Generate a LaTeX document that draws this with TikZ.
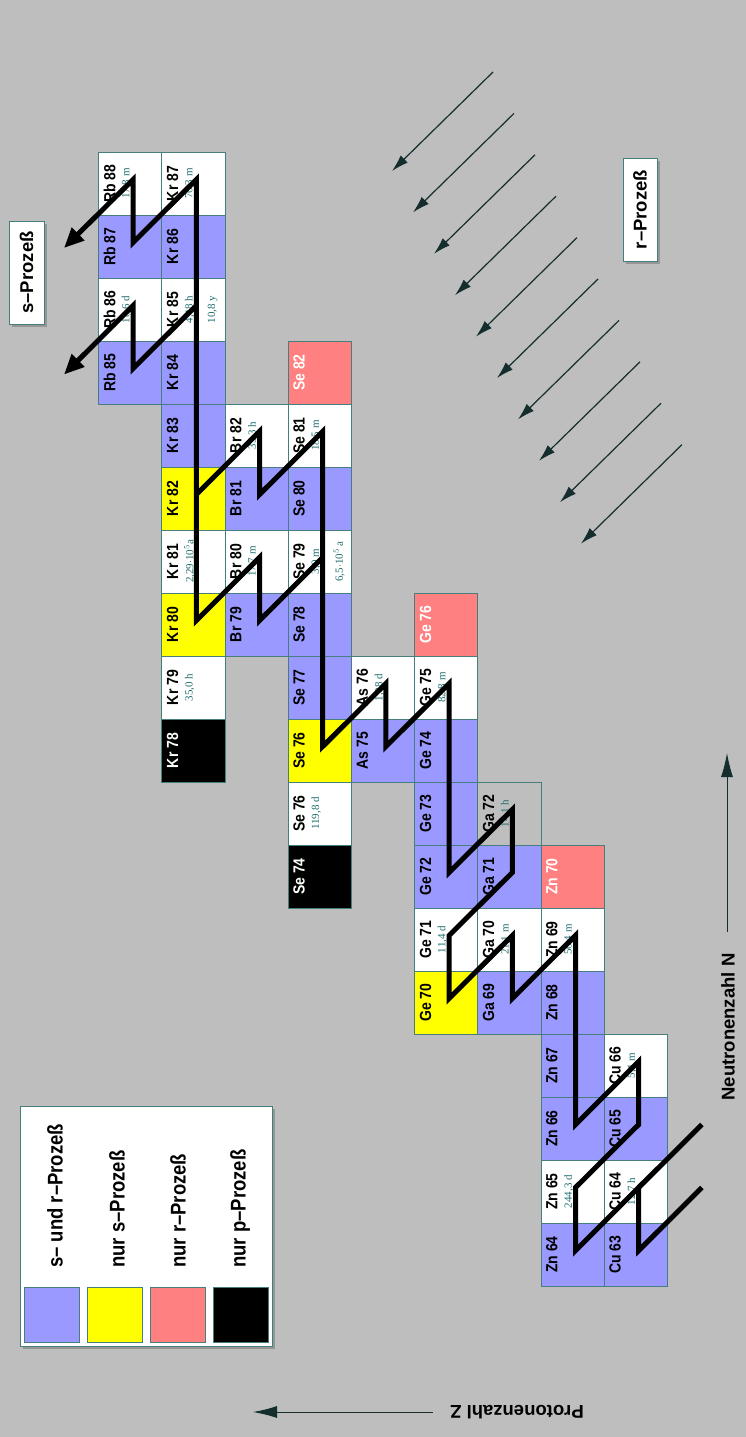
\documentclass[tikz,border=0pt]{standalone}
\usepackage{fontspec}
\setmainfont{Liberation Sans}
\newfontfamily\hlf{Liberation Serif}
\usetikzlibrary{calc,arrows.meta}
\definecolor{bg}{RGB}{190,190,190}
\definecolor{shad}{RGB}{150,150,150}
\definecolor{cblue}{RGB}{153,153,255}
\definecolor{cyel}{RGB}{255,255,0}
\definecolor{cred}{RGB}{255,128,128}
\definecolor{edge}{RGB}{70,125,125}
\definecolor{hlc}{RGB}{30,110,110}
\definecolor{arr}{RGB}{20,45,45}
\tikzset{
  cellbox/.style={draw=edge,line width=0.7pt,minimum width=63.2pt,minimum height=63pt,inner sep=0pt,outer sep=0pt},
  kWhite/.style={fill=white}, kBlue/.style={fill=cblue}, kYellow/.style={fill=cyel},
  kRed/.style={fill=cred}, kBlack/.style={fill=black}, kGray/.style={fill=bg},
  kWhitelab/.style={text=black}, kBluelab/.style={text=black}, kYellowlab/.style={text=black},
  kRedlab/.style={text=white}, kBlacklab/.style={text=white}, kGraylab/.style={text=black},
  lab/.style={rotate=90,yscale=1.15,inner sep=0pt,font=\fontsize{14}{14}\selectfont\bfseries},
  hl/.style={rotate=90,inner sep=0pt,text=hlc,font=\fontsize{11}{11}\selectfont\hlf},
  zig/.style={line width=5pt,line join=miter,line cap=butt,draw=black},
  sarrow/.style={zig,-{Triangle[length=20pt,width=17pt]}},
  rarrow/.style={draw=arr,line width=1.2pt,-{Latex[length=17pt,width=10pt]}},
  axisarrow/.style={draw=arr,line width=1pt,-{Latex[length=24pt,width=12pt]}},
  procbox/.style={rotate=90,draw=edge,fill=white,line width=0.8pt,inner sep=0pt,font=\fontsize{18.5}{18.5}\selectfont\bfseries},
  legtxt/.style={rotate=90,yscale=1.15,inner sep=0pt,anchor=west,font=\fontsize{18.5}{18.5}\selectfont\bfseries},
  swatch/.style={draw=edge,line width=0.7pt,minimum width=55pt,minimum height=55pt,inner sep=0pt,anchor=north west},
  axtxt/.style={inner sep=0pt,font=\fontsize{18.5}{18.5}\selectfont\bfseries}
}
% #1 name, #2 Z, #3 N, #4 kind, #5 label, #6 half-life, #7 second half-life
\newcommand\nuc[7]{%
  \pgfmathsetmacro\ncx{98.5+(37-#2)*63.2+31.6}%
  \pgfmathsetmacro\ncy{152+(51-#3)*63+31.5}%
  \node[cellbox,#4] (#1) at (\ncx,\ncy) {};
  \coordinate (#1c) at ($(#1.center)+(3,-4)$);
  \node[lab,#4lab] (#1l) at ($(#1.center)+(-20.6,0)$) {#5};
  \if\relax\detokenize{#6}\relax\else
    \node[hl] (#1h) at ($(#1.center)+(-3.6,0)$) {#6};
  \fi
  \if\relax\detokenize{#7}\relax\else
    \node[hl] (#1k) at ($(#1.center)+(19.4,0)$) {#7};
  \fi
}
\begin{document}
\begin{tikzpicture}[x=1pt,y=-1pt]
\useasboundingbox (0,0) rectangle (746,1437);
\fill[bg] (0,0) rectangle (746,1437);

% cells
\nuc{Rb88}{37}{51}{kWhite}{Rb 88}{17,8 m}{}
\nuc{Rb87}{37}{50}{kBlue}{Rb 87}{}{}
\nuc{Rb86}{37}{49}{kWhite}{Rb 86}{18,6 d}{}
\nuc{Rb85}{37}{48}{kBlue}{Rb 85}{}{}
\nuc{Kr87}{36}{51}{kWhite}{Kr 87}{76,3 m}{}
\nuc{Kr86}{36}{50}{kBlue}{Kr 86}{}{}
\nuc{Kr85}{36}{49}{kWhite}{Kr 85}{4,48 h}{10,8 y}
\nuc{Kr84}{36}{48}{kBlue}{Kr 84}{}{}
\nuc{Kr83}{36}{47}{kBlue}{Kr 83}{}{}
\nuc{Kr82}{36}{46}{kYellow}{Kr 82}{}{}
\nuc{Kr81}{36}{45}{kWhite}{Kr 81}{2,29$\cdot$10$^5$a}{}
\nuc{Kr80}{36}{44}{kYellow}{Kr 80}{}{}
\nuc{Kr79}{36}{43}{kWhite}{Kr 79}{35,0 h}{}
\nuc{Kr78}{36}{42}{kBlack}{Kr 78}{}{}
\nuc{Br82}{35}{47}{kWhite}{Br 82}{35,3 h}{}
\nuc{Br81}{35}{46}{kBlue}{Br 81}{}{}
\nuc{Br80}{35}{45}{kWhite}{Br 80}{17,7 m}{}
\nuc{Br79}{35}{44}{kBlue}{Br 79}{}{}
\nuc{Se82}{34}{48}{kRed}{Se 82}{}{}
\nuc{Se81}{34}{47}{kWhite}{Se 81}{18,5 m}{}
\nuc{Se80}{34}{46}{kBlue}{Se 80}{}{}
\nuc{Se79}{34}{45}{kWhite}{Se 79}{3,9 m}{6,5$\cdot$10$^5$ a}
\nuc{Se78}{34}{44}{kBlue}{Se 78}{}{}
\nuc{Se77}{34}{43}{kBlue}{Se 77}{}{}
\nuc{Se76}{34}{42}{kYellow}{Se 76}{}{}
\nuc{Se75}{34}{41}{kWhite}{Se 76}{119,8 d}{}
\nuc{Se74}{34}{40}{kBlack}{Se 74}{}{}
\nuc{As76}{33}{43}{kWhite}{As 76}{1,08 d}{}
\nuc{As75}{33}{42}{kBlue}{As 75}{}{}
\nuc{Ge76}{32}{44}{kRed}{Ge 76}{}{}
\nuc{Ge75}{32}{43}{kWhite}{Ge 75}{82,8 m}{}
\nuc{Ge74}{32}{42}{kBlue}{Ge 74}{}{}
\nuc{Ge73}{32}{41}{kBlue}{Ge 73}{}{}
\nuc{Ge72}{32}{40}{kBlue}{Ge 72}{}{}
\nuc{Ge71}{32}{39}{kWhite}{Ge 71}{11,4 d}{}
\nuc{Ge70}{32}{38}{kYellow}{Ge 70}{}{}
\nuc{Ga72}{31}{41}{kGray}{Ga 72}{14,1 h}{}
\nuc{Ga71}{31}{40}{kBlue}{Ga 71}{}{}
\nuc{Ga70}{31}{39}{kWhite}{Ga 70}{21,1 m}{}
\nuc{Ga69}{31}{38}{kBlue}{Ga 69}{}{}
\nuc{Zn70}{30}{40}{kRed}{Zn 70}{}{}
\nuc{Zn69}{30}{39}{kWhite}{Zn 69}{56,4 m}{}
\nuc{Zn68}{30}{38}{kBlue}{Zn 68}{}{}
\nuc{Zn67}{30}{37}{kBlue}{Zn 67}{}{}
\nuc{Zn66}{30}{36}{kBlue}{Zn 66}{}{}
\nuc{Zn65}{30}{35}{kWhite}{Zn 65}{244,3 d}{}
\nuc{Zn64}{30}{34}{kBlue}{Zn 64}{}{}
\nuc{Cu66}{29}{37}{kWhite}{Cu 66}{5,1 m}{}
\nuc{Cu65}{29}{36}{kBlue}{Cu 65}{}{}
\nuc{Cu64}{29}{35}{kWhite}{Cu 64}{12,7 h}{}
\nuc{Cu63}{29}{34}{kBlue}{Cu 63}{}{}

% s-process path
\coordinate (niA) at (701.9,1124.5);
\coordinate (niB) at (701.9,1187.5);
\coordinate (sA) at (64,248);
\coordinate (sB) at (64,374.5);
\draw[zig] (niA) -- (Cu64c);
\draw[zig] (niB) -- (Cu63c) -- (Cu64c) -- (Zn64c) -- (Zn65c) -- (Cu65c) -- (Cu66c)
  -- (Zn66c) -- (Zn69c) -- (Ga69c) -- (Ga70c) -- (Ge70c) -- (Ge71c) -- (Ga71c)
  -- (Ga72c) -- (Ge72c) -- (Ge75c) -- (As75c) -- (As76c) -- (Se76c) -- (Se81c)
  -- (Br81c) -- (Br82c) -- (Kr82c);
\draw[sarrow] (Se79c) -- (Br79c) -- (Br80c) -- (Kr80c) -- (Kr87c) -- (Rb87c) -- (Rb88c) -- (sA);
\draw[sarrow] (Kr85c) -- (Rb85c) -- (Rb86c) -- (sB);

% r-process arrows
\foreach \i in {0,...,9}{
  \coordinate (ra\i) at ({493+21*\i},{72+41.4*\i});
  \coordinate (rb\i) at ({392+21*\i},{171+41.4*\i});
  \draw[rarrow] (ra\i) -- (rb\i);
}

% process labels
\fill[shad] (12,224) rectangle (47,327);
\node[procbox,minimum width=103pt,minimum height=35pt] (sbox) at (26.5,272.5) {s–Prozeß};
\fill[shad] (626,161) rectangle (660,264);
\node[procbox,minimum width=103pt,minimum height=34pt] (rbox) at (640,209.5) {r–Prozeß};

% legend
\fill[shad] (23,1109) rectangle (275,1349);
\node[draw=edge,fill=white,line width=0.7pt,minimum width=252pt,minimum height=240pt,inner sep=0pt,anchor=north west] (leg) at (20,1106) {};
\node[swatch,fill=cblue] (sw1) at (24,1287) {};
\node[swatch,fill=cyel] (sw2) at (87,1287) {};
\node[swatch,fill=cred] (sw3) at (150,1287) {};
\node[swatch,fill=black] (sw4) at (213,1287) {};
\node[legtxt] (lt1) at (55,1268) {s– und r–Prozeß};
\node[legtxt] (lt2) at (117,1268) {nur s–Prozeß};
\node[legtxt] (lt3) at (178,1268) {nur r–Prozeß};
\node[legtxt] (lt4) at (240,1268) {nur p–Prozeß};

% axes
\coordinate (nS) at (727,932);
\coordinate (nE) at (727,753);
\draw[axisarrow] (nS) -- (nE);
\node[axtxt,rotate=90] (nlab) at (728,1027) {Neutronenzahl N};
\coordinate (zS) at (433,1412);
\coordinate (zE) at (253,1412);
\draw[axisarrow] (zS) -- (zE);
\node[axtxt,rotate=180] (zlab) at (517,1412) {Protonenzahl Z};
\end{tikzpicture}
\end{document}
